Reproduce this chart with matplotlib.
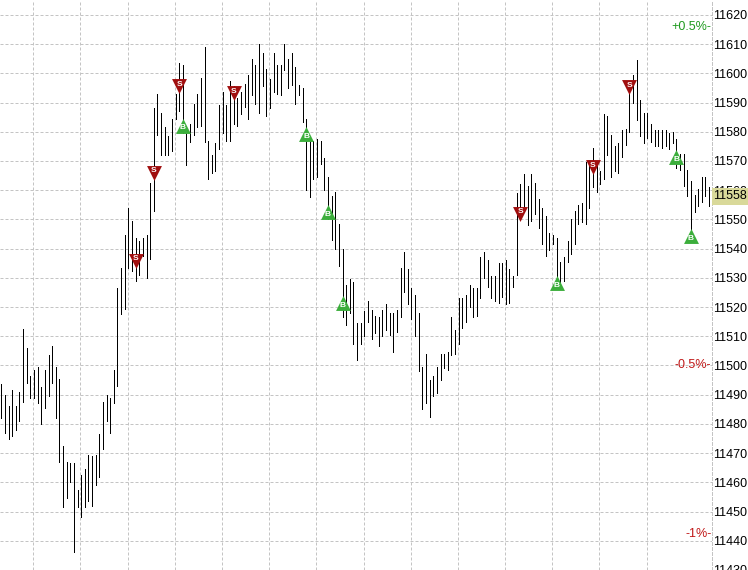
import matplotlib
matplotlib.use("Agg")
import matplotlib.pyplot as plt
import matplotlib.transforms as mtransforms
from matplotlib.patches import Rectangle

plt.rcParams["font.family"] = ["Liberation Sans", "DejaVu Sans"]

# bar highs / lows, one per bar
highs = [
    11493.5, 11490, 11486, 11491.5, 11486, 11491, 11512.5, 11506, 11496.5, 11498.5,
    11499.5, 11492.5, 11498.5, 11503.5, 11506.5, 11499.5, 11495.5, 11472.5, 11467, 11466.5,
    11466.5, 11457.5, 11462.5, 11464.5, 11469.5, 11469, 11469.5, 11476.5, 11487.5, 11490,
    11489, 11498.5, 11526.5, 11533.5, 11544.5, 11554, 11549.5, 11543.5, 11542.5, 11543.5,
    11544.5, 11562.5, 11588, 11593, 11586.5, 11581.5, 11578.5, 11584.5, 11593, 11603.5,
    11603, 11580, 11582.5, 11589.5, 11593, 11598.5, 11609, 11577, 11572, 11576,
    11589, 11593.5, 11589, 11597.5, 11595.5, 11591.5, 11593.5, 11596.5, 11599.5, 11605,
    11603, 11610, 11607, 11601.5, 11598, 11607, 11603, 11603, 11610, 11605,
    11607, 11602, 11596, 11595, 11584.5, 11577, 11577, 11577.5, 11577, 11571,
    11564.5, 11558, 11559.5, 11548.5, 11540, 11527.5, 11529.5, 11528.5, 11514.5, 11514.5,
    11518.5, 11522, 11519, 11517, 11516.5, 11519, 11521, 11518, 11518, 11519,
    11533.5, 11539, 11533, 11526.5, 11524, 11518, 11499.5, 11504, 11495, 11496.5,
    11499.5, 11504, 11504, 11504.5, 11516.5, 11512, 11523, 11523, 11524, 11527.5,
    11526.5, 11526.5, 11537, 11539, 11536, 11530.5, 11530.5, 11535, 11535, 11536,
    11533, 11530.5, 11559, 11562, 11565.5, 11561.5, 11565.5, 11562.5, 11557, 11554,
    11551, 11545.5, 11544.5, 11543.5, 11535.5, 11537, 11542.5, 11550, 11553, 11555,
    11555.5, 11569.5, 11568.5, 11574.5, 11568.5, 11566.5, 11586, 11585.5, 11579, 11575,
    11576, 11580.5, 11581, 11596, 11599.5, 11604.5, 11591, 11586.5, 11586.5, 11582.5,
    11580.5, 11580.5, 11580.5, 11580.5, 11579.5, 11580, 11577.5, 11572.5, 11572.5, 11567,
    11563, 11558.5, 11560.5, 11564.5, 11564.5, 11561,
]
lows = [
    11482, 11477, 11475, 11476, 11478, 11481, 11487.5, 11494, 11489, 11489,
    11487, 11480, 11485.5, 11489.5, 11494, 11482, 11467, 11451.5, 11454.5, 11460,
    11436, 11451.5, 11448, 11451.5, 11453.5, 11452, 11459, 11462, 11471.5, 11481,
    11477, 11487, 11493, 11517.5, 11519.5, 11533.5, 11532.5, 11529, 11531, 11537.5,
    11530, 11536.5, 11553, 11579, 11572, 11572, 11572, 11573.5, 11584.5, 11587,
    11579.5, 11568.5, 11576.5, 11579, 11581.5, 11582, 11576.5, 11564, 11566, 11566.5,
    11574, 11579.5, 11577, 11577, 11582.5, 11582, 11586, 11588.5, 11584.5, 11592.5,
    11589.5, 11586.5, 11595.5, 11585.5, 11588, 11593.5, 11593, 11592.5, 11601, 11595,
    11596, 11589.5, 11592.5, 11583.5, 11560, 11557.5, 11564, 11564.5, 11569, 11560,
    11550, 11543, 11540, 11534, 11516.5, 11514, 11518, 11507.5, 11502, 11507.5,
    11510, 11515, 11509, 11511, 11506.5, 11510, 11512, 11510.5, 11504.5, 11511.5,
    11516.5, 11525, 11521, 11516, 11510, 11498, 11485, 11487, 11482.5, 11489.5,
    11490.5, 11495, 11499, 11498.5, 11503.5, 11504, 11507.5, 11513, 11515, 11520,
    11516.5, 11517, 11523, 11530, 11527, 11523, 11522, 11521.5, 11523.5, 11521,
    11521.5, 11527, 11531, 11550.5, 11552.5, 11548, 11549.5, 11552, 11547, 11541.5,
    11537.5, 11539.5, 11541.5, 11529, 11528.5, 11529, 11535.5, 11538, 11541.5, 11548.5,
    11549, 11548.5, 11554, 11561, 11559.5, 11562, 11564, 11572, 11564.5, 11566.5,
    11566, 11571.5, 11575.5, 11580, 11590, 11584, 11578.5, 11576, 11578, 11576.5,
    11575, 11575, 11574.5, 11575, 11574, 11576, 11567.5, 11567, 11561.5, 11558,
    11545, 11552.5, 11554.5, 11556, 11558, 11554.5,
]

# trade signals: bar index and price
sell_idx = [37, 42, 49, 64, 143, 163, 173]
sell_px = [11535.8, 11565.9, 11595.6, 11593.1, 11552.0, 11567.8, 11595.2]
buy_idx = [50, 84, 90, 94, 153, 186, 190]
buy_px = [11582.1, 11579.1, 11552.4, 11521.4, 11528.2, 11571.3, 11544.2]

last_price = 11558
pct_levels = [0.5, -0.5, -1.0]
pct_labels = ["+0.5%-", "-0.5%-", "-1%-"]
pct_colors = ["#1f9a1f", "#c01818", "#c01818"]
price_ticks = list(range(11430, 11630, 10))

GRID = "#c4c4c4"
DASH = (0, (3, 2))
FS = 9

fig = plt.figure(figsize=(7.48, 5.70), dpi=100)
fig.patch.set_facecolor("white")
ax = fig.add_axes([0, 0, 712 / 748, 1])

n = len(highs)
ax.vlines(range(n), lows, highs, colors="black", linewidth=0.72, antialiased=False)

ax.scatter(sell_idx, sell_px, marker="v", s=115, c="#a00e0e", zorder=4, linewidths=0)
ax.scatter(buy_idx, buy_px, marker="^", s=115, c="#3cae3c", zorder=4, linewidths=0)
for i, p in zip(sell_idx, sell_px):
    ax.text(i, p + 0.7, "S", color="white", fontsize=6, fontweight="bold",
            ha="center", va="center", zorder=5)
for i, p in zip(buy_idx, buy_px):
    ax.text(i, p - 0.7, "B", color="white", fontsize=6, fontweight="bold",
            ha="center", va="center", zorder=5)

ax.set_xlim(-0.37, 195.8)
ax.set_ylim(11431.5, 11625.1)

# vertical grid every 13 bars
ax.set_xticks([9 - 0.2 + 13 * k for k in range(14)])
ax.set_yticks(price_ticks)
ax.tick_params(axis="x", length=0, labelbottom=False)
ax.yaxis.tick_right()
ax.tick_params(axis="y", length=0, pad=1.0, labelsize=FS, labelcolor="black")
ax.grid(True, color=GRID, linestyle=DASH, linewidth=0.72)
for side in ("top", "bottom", "left"):
    ax.spines[side].set_visible(False)
ax.spines["right"].set_color(GRID)
ax.spines["right"].set_linestyle(DASH)
ax.spines["right"].set_linewidth(0.72)

trans = mtransforms.blended_transform_factory(ax.transAxes, ax.transData)
for lvl, lab, col in zip(pct_levels, pct_labels, pct_colors):
    ax.text(0.999, last_price * (1 + lvl / 100), lab, transform=trans,
            ha="right", va="center", color=col, fontsize=FS)

# last price highlight
y_disp = ax.transData.transform((0, last_price))[1]
yf = y_disp / fig.bbox.height
fig.patches.append(Rectangle((712 / 748, yf - 8.5 / 570), 36 / 748, 17 / 570,
                             transform=fig.transFigure, facecolor="#d9d99a",
                             edgecolor="none", zorder=2))
fig.text(713.5 / 748, yf, str(last_price), ha="left", va="center",
         fontsize=FS, color="black", zorder=3)

fig.savefig("out.png", dpi=100)
